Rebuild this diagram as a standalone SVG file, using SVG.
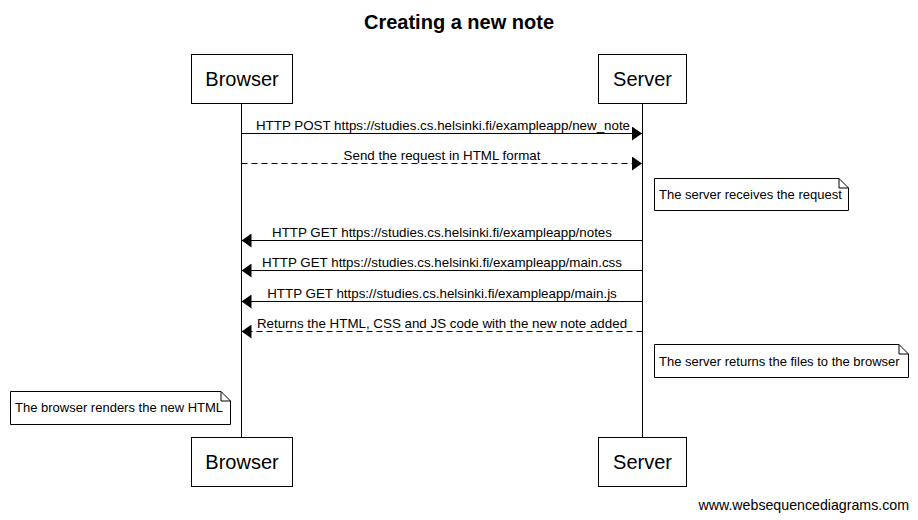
<svg xmlns="http://www.w3.org/2000/svg" width="918" height="520" viewBox="0 0 918 520">
<style>
text{font-family:"Liberation Sans",Arial,sans-serif;fill:#000}
.box{fill:#fff;stroke:#000;stroke-width:1}
.life{stroke:#000;stroke-width:1}
.msg{stroke:#000;stroke-width:1;fill:none}
.dash{stroke-dasharray:6,4}
.lbl{font-size:13.35px;text-anchor:middle}
.part{font-size:20px;text-anchor:middle}
.note{fill:#fff;stroke:#000;stroke-width:1}
.nt{font-size:13px}
</style>
<defs>
<marker id="ah" viewBox="0 0 10 14" refX="10" refY="7" markerWidth="10" markerHeight="14" markerUnits="userSpaceOnUse" orient="auto">
<path d="M0,0 L10,7 L0,14 Z" fill="#000"/>
</marker>
</defs>
<rect width="918" height="520" fill="#fff"/>
<text x="459" y="29" font-size="20" font-weight="bold" text-anchor="middle">Creating a new note</text>
<g id="lifelines">
<line class="life" x1="241.5" y1="103" x2="241.5" y2="437"/>
<line class="life" x1="642.5" y1="103" x2="642.5" y2="437"/>
</g>
<g id="browser">
<rect class="box" x="191.5" y="54.5" width="101" height="49"/>
<text class="part" x="242" y="86">Browser</text>
<rect class="box" x="191.5" y="437.5" width="101" height="49"/>
<text class="part" x="242" y="469">Browser</text>
</g>
<g id="server">
<rect class="box" x="598.5" y="54.5" width="88" height="49"/>
<text class="part" x="642.5" y="86">Server</text>
<rect class="box" x="598.5" y="437.5" width="88" height="49"/>
<text class="part" x="642.5" y="469">Server</text>
</g>
<g id="connectors">
<line class="msg" x1="241.5" y1="133.5" x2="642" y2="133.5" marker-end="url(#ah)"/>
<text class="lbl" x="443" y="130">HTTP POST https://studies.cs.helsinki.fi/exampleapp/new_note</text>
<line class="msg dash" x1="241.5" y1="163.5" x2="642" y2="163.5" marker-end="url(#ah)"/>
<text class="lbl" x="442" y="160">Send the request in HTML format</text>
<line class="msg" x1="642.5" y1="240.5" x2="241.5" y2="240.5" marker-end="url(#ah)"/>
<text class="lbl" x="442" y="237">HTTP GET https://studies.cs.helsinki.fi/exampleapp/notes</text>
<line class="msg" x1="642.5" y1="270.5" x2="241.5" y2="270.5" marker-end="url(#ah)"/>
<text class="lbl" x="442" y="267">HTTP GET https://studies.cs.helsinki.fi/exampleapp/main.css</text>
<line class="msg" x1="642.5" y1="301.5" x2="241.5" y2="301.5" marker-end="url(#ah)"/>
<text class="lbl" x="442" y="298">HTTP GET https://studies.cs.helsinki.fi/exampleapp/main.js</text>
<line class="msg dash" x1="642.5" y1="331.5" x2="241.5" y2="331.5" marker-end="url(#ah)"/>
<text class="lbl" x="442" y="328">Returns the HTML, CSS and JS code with the new note added</text>
</g>
<g id="note1">
<path class="note" d="M654.5,178.5 H839 L848.5,188 V210.5 H654.5 Z"/>
<path class="msg" d="M839,178.5 V188 H848.5"/>
<text class="nt" x="659" y="199">The server receives the request</text>
</g>
<g id="note2">
<path class="note" d="M654.5,344.5 H899 L908.5,354 V377.5 H654.5 Z"/>
<path class="msg" d="M899,344.5 V354 H908.5"/>
<text class="nt" x="659" y="366">The server returns the files to the browser</text>
</g>
<g id="note3">
<path class="note" d="M10.5,391.5 H221 L230.5,401 V424.5 H10.5 Z"/>
<path class="msg" d="M221,391.5 V401 H230.5"/>
<text class="nt" x="15" y="412">The browser renders the new HTML</text>
</g>
<text x="909" y="510" font-size="14.2" text-anchor="end">www.websequencediagrams.com</text>
</svg>
